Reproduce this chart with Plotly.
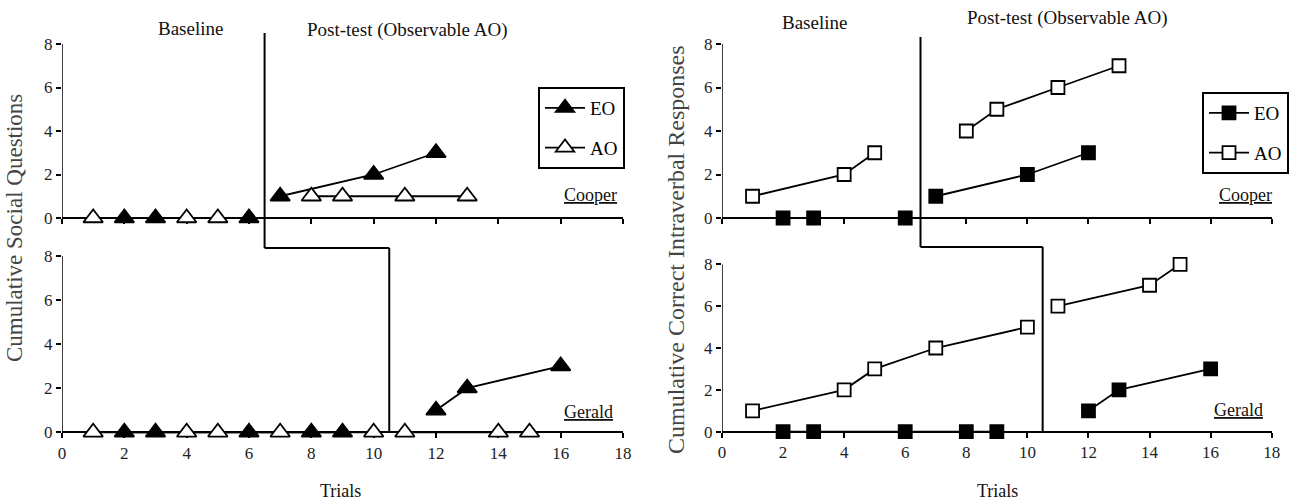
import plotly.graph_objects as go

# ---------------- data ----------------
trial_ticks = [0, 2, 4, 6, 8, 10, 12, 14, 16, 18]
y_ticks = [0, 2, 4, 6, 8]
phase_change_top = 6.5
phase_change_bottom = 10.5

# Left top: Cooper, cumulative social questions
cs_eo_base_x = [2, 3, 6];        cs_eo_base_y = [0, 0, 0]
cs_ao_base_x = [1, 4, 5];        cs_ao_base_y = [0, 0, 0]
cs_eo_post_x = [7, 10, 12];      cs_eo_post_y = [1, 2, 3]
cs_ao_post_x = [8, 9, 11, 13];   cs_ao_post_y = [1, 1, 1, 1]

# Left bottom: Gerald, cumulative social questions
gs_eo_base_x = [2, 3, 6, 8, 9];  gs_eo_base_y = [0, 0, 0, 0, 0]
gs_ao_base_x = [1, 4, 5, 7, 10]; gs_ao_base_y = [0, 0, 0, 0, 0]
gs_eo_post_x = [12, 13, 16];     gs_eo_post_y = [1, 2, 3]
gs_ao_post_x = [11, 14, 15];     gs_ao_post_y = [0, 0, 0]

# Right top: Cooper, cumulative correct intraverbal responses
ci_eo_base_x = [2, 3, 6];        ci_eo_base_y = [0, 0, 0]
ci_ao_base_x = [1, 4, 5];        ci_ao_base_y = [1, 2, 3]
ci_eo_post_x = [7, 10, 12];      ci_eo_post_y = [1, 2, 3]
ci_ao_post_x = [8, 9, 11, 13];   ci_ao_post_y = [4, 5, 6, 7]

# Right bottom: Gerald, cumulative correct intraverbal responses
gi_eo_base_x = [2, 3, 6, 8, 9];  gi_eo_base_y = [0, 0, 0, 0, 0]
gi_ao_base_x = [1, 4, 5, 7, 10]; gi_ao_base_y = [1, 2, 3, 4, 5]
gi_eo_post_x = [12, 13, 16];     gi_eo_post_y = [1, 2, 3]
gi_ao_post_x = [11, 14, 15];     gi_ao_post_y = [6, 7, 8]

# ---------------- figure ----------------
FONT = "Liberation Serif"
W, H = 1294, 501
Y_PAD = 0.6   # axis range below zero so markers at 0 are never clipped
fig = go.Figure()

def px_x(p):
    return p / W

def px_y(p):
    return 1 - p / H

def add(x, y, xa, ya, symbol, filled, name=None, legend=None, group=None):
    size = 17 if symbol == "triangle-up" else 13
    fig.add_trace(go.Scatter(
        x=x, y=y, xaxis=xa, yaxis=ya, mode="lines+markers",
        line=dict(color="black", width=1.8),
        marker=dict(symbol=symbol, size=size,
                    color="black" if filled else "white",
                    line=dict(color="black", width=1.8)),
        cliponaxis=False,
        name=name if name else "",
        showlegend=name is not None,
        legend=legend if legend else "legend",
        legendgroup=group,
    ))

# left top
add(cs_eo_base_x, cs_eo_base_y, "x", "y", "triangle-up", True)
add(cs_ao_base_x, cs_ao_base_y, "x", "y", "triangle-up", False)
add(cs_eo_post_x, cs_eo_post_y, "x", "y", "triangle-up", True, "EO", "legend", "leo")
add(cs_ao_post_x, cs_ao_post_y, "x", "y", "triangle-up", False, "AO", "legend", "lao")
# left bottom
add(gs_eo_base_x, gs_eo_base_y, "x2", "y2", "triangle-up", True)
add(gs_ao_base_x, gs_ao_base_y, "x2", "y2", "triangle-up", False)
add(gs_eo_post_x, gs_eo_post_y, "x2", "y2", "triangle-up", True)
add(gs_ao_post_x, gs_ao_post_y, "x2", "y2", "triangle-up", False)
# right top
add(ci_eo_base_x, ci_eo_base_y, "x3", "y3", "square", True)
add(ci_ao_base_x, ci_ao_base_y, "x3", "y3", "square", False)
add(ci_eo_post_x, ci_eo_post_y, "x3", "y3", "square", True, "EO", "legend2", "reo")
add(ci_ao_post_x, ci_ao_post_y, "x3", "y3", "square", False, "AO", "legend2", "rao")
# right bottom
add(gi_eo_base_x, gi_eo_base_y, "x4", "y4", "square", True)
add(gi_ao_base_x, gi_ao_base_y, "x4", "y4", "square", False)
add(gi_eo_post_x, gi_eo_post_y, "x4", "y4", "square", True)
add(gi_ao_post_x, gi_ao_post_y, "x4", "y4", "square", False)

left_dom = [px_x(62), px_x(623)]
right_dom = [px_x(722), px_x(1271.7)]

def ydom(p0, p8):
    u = (p0 - p8) / 8.0
    return [px_y(p0 + Y_PAD * u), px_y(p8)]

# pixel rows of y=0 and y=8 for each panel
TOP0, TOP8 = 218, 44
LB0, LB8 = 432.3, 255.7
RB0, RB8 = 431.7, 264.3

def xax(domain, pos, labels):
    return dict(domain=domain, anchor="free", position=px_y(pos), range=[0, 18],
                tickvals=trial_ticks,
                showticklabels=labels, ticks="outside", ticklen=5, tickwidth=1.5,
                tickcolor="black", showline=True, linecolor="black", linewidth=1.8,
                showgrid=False, zeroline=False, automargin=False, layer="below traces",
                tickfont=dict(family=FONT, size=17, color="#222"))

def yax(domain, anchor):
    return dict(domain=domain, anchor=anchor, range=[-Y_PAD, 8], tickvals=y_ticks,
                ticks="outside", ticklen=5, tickwidth=1.5, tickcolor="black",
                showline=False, showgrid=False, zeroline=False, automargin=False,
                layer="below traces",
                tickfont=dict(family=FONT, size=17, color="#222"))

legend_common = dict(
    bgcolor="white", bordercolor="black", borderwidth=2,
    font=dict(family=FONT, size=19, color="black"),
    itemwidth=40, traceorder="grouped", tracegroupgap=12,
    xanchor="left", yanchor="top",
)

fig.update_layout(
    template="none",
    width=W, height=H,
    margin=dict(l=0, r=0, t=0, b=0, pad=0, autoexpand=False),
    paper_bgcolor="white", plot_bgcolor="rgba(0,0,0,0)",
    xaxis=xax(left_dom, TOP0, False), yaxis=yax(ydom(TOP0, TOP8), "x"),
    xaxis2=xax(left_dom, LB0, True), yaxis2=yax(ydom(LB0, LB8), "x2"),
    xaxis3=xax(right_dom, TOP0, False), yaxis3=yax(ydom(TOP0, TOP8), "x3"),
    xaxis4=xax(right_dom, RB0, True), yaxis4=yax(ydom(RB0, RB8), "x4"),
    legend=dict(x=px_x(538), y=px_y(87), **legend_common),
    legend2=dict(x=px_x(1202), y=px_y(92), **legend_common),
    showlegend=True,
)

# y-axis lines from 0 to 8
for xa, ya in [("x", "y"), ("x2", "y2"), ("x3", "y3"), ("x4", "y4")]:
    fig.add_shape(type="line", xref=xa, yref=ya, x0=0, x1=0, y0=0, y1=8,
                  layer="below", line=dict(color="black", width=1.5))

# phase change lines
def vline(xref, x, y0, y1, w=2):
    fig.add_shape(type="line", xref=xref, yref="paper", x0=x, x1=x,
                  y0=px_y(y0), y1=px_y(y1), line=dict(color="black", width=w))

def hline(xref, xa, xb, y, w=2):
    fig.add_shape(type="line", xref=xref, yref="paper", x0=xa, x1=xb,
                  y0=px_y(y), y1=px_y(y), line=dict(color="black", width=w))

vline("x", phase_change_top, 33, 248)
hline("x", phase_change_top, phase_change_bottom, 248)
vline("x", phase_change_bottom, 248, LB0)
vline("x3", phase_change_top, 37, 247)
hline("x3", phase_change_top, phase_change_bottom, 247)
vline("x3", phase_change_bottom, 247, RB0)

def ann(text, x, y, size, angle=0, color="#111"):
    fig.add_annotation(text=text, x=px_x(x), y=px_y(y), xref="paper", yref="paper",
                       showarrow=False, textangle=angle, xanchor="center", yanchor="middle",
                       font=dict(family=FONT, size=size, color=color))

ann("Baseline", 190, 28, 19)
ann("Post-test (Observable AO)", 408, 30, 19)
ann("Baseline", 814, 22, 19)
ann("Post-test (Observable AO)", 1067, 18, 19)
ann("<u>Cooper</u>", 590, 195, 18)
ann("<u>Gerald</u>", 588, 412, 18)
ann("<u>Cooper</u>", 1245, 195, 18)
ann("<u>Gerald</u>", 1238, 410, 18)
ann("Trials", 340, 491, 18)
ann("Trials", 997, 491, 18)
ann("Cumulative Social Questions", 14, 228, 23, -90, "#444")
ann("Cumulative Correct Intraverbal Responses", 676, 250, 24, -90, "#444")

fig.write_html("out.html")
